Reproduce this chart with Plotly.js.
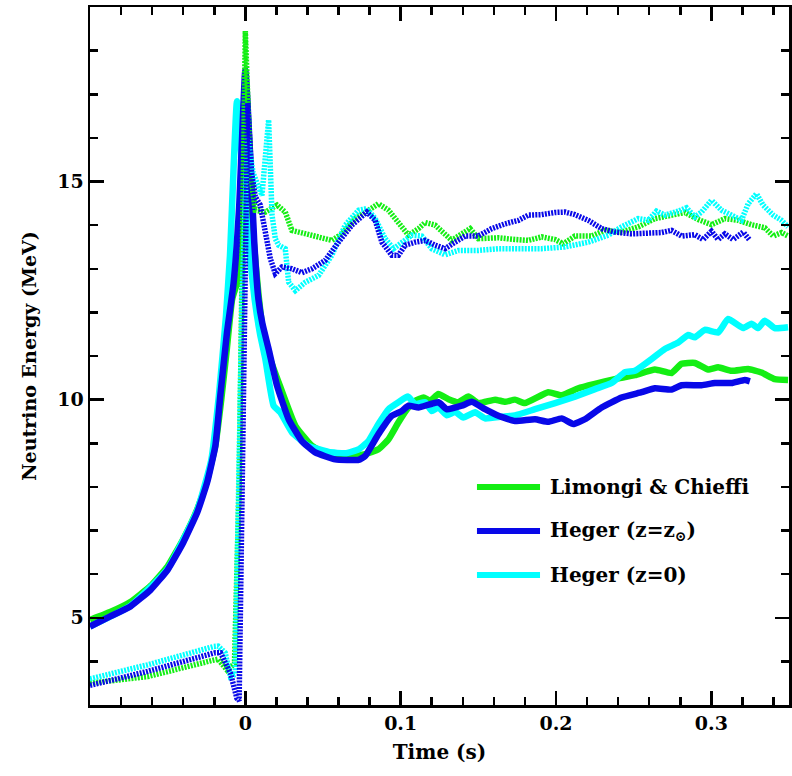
<!DOCTYPE html>
<html>
<head>
<meta charset="utf-8">
<script src="https://cdn.plot.ly/plotly-3.0.1.min.js"></script>
<style>html,body{margin:0;padding:0;background:#fff;}#chart{width:792px;height:776px;}</style>
</head>
<body>
<div id="chart"></div>
<script>
// ---- data: [time (s), energy (MeV)] ----
const seriesNames = ['Limongi & Chieffi', 'Heger (z=z<sub>\u2299</sub>)', 'Heger (z=0)'];
const seriesColors = ['#14ee14', '#0808e8', '#00ffff'];

const lcSolid = [[-0.1,4.95],[-0.087,5.13],[-0.074,5.36],[-0.061,5.73],[-0.05,6.18],[-0.04,6.8],[-0.031,7.48],[-0.0246,8.15],[-0.0193,8.95],[-0.0155,10.0],[-0.0118,11.2],[-0.0085,12.3],[-0.005,12.7],[-0.003,12.9],[-0.001,15.0],[0.0005,17.3],[0.0025,15.6],[0.005,13.8],[0.0085,12.4],[0.0125,11.3],[0.0214,10.4],[0.0322,9.4],[0.0429,8.94],[0.0557,8.71],[0.0686,8.71],[0.0772,8.75],[0.0857,8.86],[0.0922,9.09],[0.0986,9.48],[0.105,9.82],[0.1093,9.97],[0.1147,10.05],[0.119,9.97],[0.1243,10.13],[0.1308,10.01],[0.1372,9.94],[0.1436,10.07],[0.15,9.92],[0.1608,10.0],[0.1672,9.95],[0.1736,10.0],[0.18,9.92],[0.195,10.17],[0.2036,10.1],[0.2144,10.26],[0.2251,10.36],[0.2379,10.47],[0.2508,10.56],[0.2637,10.69],[0.2744,10.61],[0.2808,10.82],[0.2894,10.84],[0.2979,10.69],[0.3044,10.74],[0.313,10.66],[0.3237,10.7],[0.3323,10.62],[0.3408,10.47],[0.3494,10.45]];

const hsSolid = [[-0.1,4.8],[-0.087,5.03],[-0.074,5.26],[-0.061,5.64],[-0.05,6.1],[-0.04,6.72],[-0.031,7.41],[-0.0246,8.1],[-0.0193,8.94],[-0.0161,10.09],[-0.0118,11.54],[-0.0075,12.69],[-0.004,14.4],[0.0,17.55],[0.0032,15.53],[0.0058,13.57],[0.0084,12.31],[0.011,11.74],[0.015,11.16],[0.0204,10.32],[0.0279,9.55],[0.0364,9.05],[0.045,8.79],[0.0579,8.63],[0.0729,8.62],[0.0772,8.71],[0.0857,9.21],[0.0943,9.63],[0.1008,9.74],[0.105,9.86],[0.1115,9.82],[0.1243,9.94],[0.1297,9.78],[0.1393,9.86],[0.1458,9.95],[0.1543,9.78],[0.1629,9.63],[0.1736,9.51],[0.1865,9.55],[0.195,9.49],[0.2036,9.57],[0.2111,9.44],[0.2186,9.55],[0.2294,9.82],[0.2422,10.05],[0.2551,10.17],[0.2637,10.26],[0.2744,10.23],[0.2808,10.33],[0.2937,10.33],[0.3023,10.38],[0.313,10.38],[0.3215,10.45],[0.3248,10.42]];

const h0Solid = [[-0.1,4.8],[-0.074,5.27],[-0.05,6.12],[-0.031,7.46],[-0.022,8.6],[-0.017,10.1],[-0.0125,11.9],[-0.0099,13.3],[-0.0054,16.84],[-0.002,15.3],[0.002,13.6],[0.006,12.3],[0.0095,11.5],[0.0129,10.93],[0.0182,9.86],[0.0225,9.71],[0.03,9.25],[0.0407,8.94],[0.0536,8.8],[0.0643,8.77],[0.0729,8.86],[0.0793,9.05],[0.0857,9.44],[0.0922,9.78],[0.0986,9.94],[0.1046,10.07],[0.1093,9.9],[0.1158,9.94],[0.12,9.74],[0.1243,9.82],[0.1297,9.64],[0.135,9.72],[0.1404,9.59],[0.1479,9.71],[0.1543,9.57],[0.1651,9.61],[0.1736,9.64],[0.1865,9.78],[0.1994,9.92],[0.2122,10.07],[0.2251,10.24],[0.2358,10.38],[0.2444,10.63],[0.2508,10.66],[0.2615,10.93],[0.2701,11.16],[0.2787,11.31],[0.2851,11.48],[0.2894,11.43],[0.2958,11.6],[0.3044,11.54],[0.3108,11.85],[0.3205,11.64],[0.3258,11.74],[0.3301,11.64],[0.3344,11.81],[0.3408,11.64],[0.3494,11.66]];

const lcDotted = [[-0.1,3.5],[-0.063,3.65],[-0.0204,4.03],[-0.0175,4.05],[-0.0118,3.8],[-0.007,3.95],[-0.004,8.0],[-0.002,13.0],[0.0,18.45],[0.002,16.5],[0.004,15.0],[0.0064,14.34],[0.0129,14.3],[0.0204,14.46],[0.0257,14.3],[0.03,13.88],[0.0386,13.8],[0.0472,13.71],[0.0557,13.65],[0.0622,13.8],[0.0707,14.15],[0.0793,14.34],[0.0857,14.49],[0.0922,14.34],[0.0986,14.07],[0.105,13.77],[0.1115,13.92],[0.1158,14.06],[0.1222,14.0],[0.1286,13.77],[0.1329,13.65],[0.1393,13.8],[0.1447,13.92],[0.15,13.69],[0.1629,13.71],[0.1736,13.67],[0.1822,13.65],[0.1908,13.73],[0.1994,13.67],[0.2047,13.57],[0.2122,13.75],[0.2229,13.75],[0.2315,13.88],[0.2422,13.84],[0.2529,13.96],[0.2637,14.15],[0.2744,14.23],[0.283,14.29],[0.2915,14.13],[0.3001,14.01],[0.3087,14.15],[0.3172,14.11],[0.3258,14.01],[0.3344,13.94],[0.3398,13.75],[0.3452,13.83],[0.3494,13.75]];

const hsDotted = [[-0.1,3.45],[-0.063,3.77],[-0.0193,4.2],[-0.016,4.2],[-0.0096,3.73],[-0.0054,3.15],[-0.004,3.1],[-0.002,8.0],[0.0,14.0],[0.0015,16.8],[0.004,15.2],[0.0064,14.65],[0.0096,14.46],[0.0129,13.77],[0.0161,13.23],[0.0193,12.89],[0.0236,13.04],[0.03,13.0],[0.0364,12.91],[0.0429,13.0],[0.0514,13.19],[0.06,13.61],[0.0686,14.0],[0.0782,14.3],[0.0836,14.11],[0.0879,13.61],[0.0943,13.31],[0.0986,13.31],[0.1029,13.54],[0.1093,13.61],[0.1158,13.65],[0.1222,13.54],[0.1286,13.46],[0.135,13.61],[0.1415,13.75],[0.15,13.75],[0.1586,13.92],[0.1672,14.03],[0.1758,14.11],[0.1822,14.23],[0.1908,14.24],[0.1994,14.29],[0.2058,14.3],[0.2122,14.24],[0.2208,14.11],[0.2294,13.92],[0.238,13.84],[0.2487,13.8],[0.2594,13.8],[0.268,13.83],[0.2744,13.88],[0.2808,13.75],[0.2894,13.78],[0.2947,13.67],[0.3001,13.86],[0.3044,13.67],[0.3087,13.8],[0.314,13.67],[0.3205,13.84],[0.3248,13.65]];

const h0Dotted = [[-0.1,3.6],[-0.063,3.92],[-0.0204,4.34],[-0.0175,4.35],[-0.013,4.2],[-0.0096,3.65],[-0.0065,3.7],[-0.004,8.0],[-0.002,12.5],[0.0015,16.0],[0.005,15.2],[0.0107,14.68],[0.015,16.41],[0.0172,14.23],[0.0193,13.69],[0.0214,13.54],[0.0257,13.46],[0.0279,12.69],[0.0322,12.5],[0.0386,12.69],[0.0472,12.85],[0.0557,13.31],[0.0643,14.0],[0.0729,14.34],[0.0782,14.38],[0.0836,14.15],[0.09,13.69],[0.0954,13.46],[0.1008,13.61],[0.1072,13.77],[0.1136,13.75],[0.12,13.46],[0.1286,13.32],[0.1372,13.42],[0.15,13.42],[0.1629,13.46],[0.1758,13.46],[0.1908,13.46],[0.2058,13.5],[0.2208,13.61],[0.2337,13.77],[0.2422,13.96],[0.2529,14.15],[0.2594,14.11],[0.2647,14.32],[0.2701,14.23],[0.2787,14.32],[0.284,14.4],[0.2894,14.19],[0.2937,14.3],[0.3001,14.57],[0.3066,14.34],[0.313,14.23],[0.3194,14.11],[0.3237,14.49],[0.3291,14.72],[0.3333,14.46],[0.3398,14.23],[0.3452,14.11],[0.3494,13.96]];

const xTickVals = [0, 0.1, 0.2, 0.3];
const xTickText = ['0', '0.1', '0.2', '0.3'];
const yTickVals = [5, 10, 15];
const yTickText = ['5', '10', '15'];

// ---- build ----
const FONT = 'DejaVu Serif';
const solids = [lcSolid, hsSolid, h0Solid];
const dotted = [lcDotted, hsDotted, h0Dotted];
const order = [0, 2, 1];
const traces = [];
order.forEach(i => {
  traces.push({x: solids[i].map(p => p[0]), y: solids[i].map(p => p[1]), type: 'scatter', mode: 'lines',
    line: {color: seriesColors[i], width: 6.5, shape: 'spline', smoothing: 0.4}, showlegend: false, hoverinfo: 'skip'});
});
order.forEach(i => {
  traces.push({x: dotted[i].map(p => p[0]), y: dotted[i].map(p => p[1]), type: 'scatter', mode: 'lines',
    line: {color: seriesColors[i], width: 5.5, dash: '2px,1.2px'}, showlegend: false, hoverinfo: 'skip'});
});

const legendY = [0.3123, 0.2493, 0.1862];
const shapes = [], annotations = [];
seriesNames.forEach((name, i) => {
  shapes.push({type: 'line', xref: 'paper', yref: 'paper', x0: 0.5536, x1: 0.6438, y0: legendY[i], y1: legendY[i],
    line: {color: seriesColors[i], width: 6}});
  annotations.push({xref: 'paper', yref: 'paper', x: 0.6552, y: legendY[i], xanchor: 'left', yanchor: 'middle',
    text: name, showarrow: false, font: {family: FONT, size: 20, color: '#000', weight: 'bold'}});
});

const axisCommon = {
  showline: true, linecolor: '#000', linewidth: 2.5, mirror: 'allticks',
  ticks: 'inside', ticklen: 14, tickwidth: 2.5, tickcolor: '#000',
  showgrid: false, zeroline: false,
  tickfont: {family: FONT, size: 19, color: '#000', weight: 'bold'}
};

const layout = {
  width: 792, height: 776,
  margin: {l: 90, r: 3, t: 7, b: 71},
  paper_bgcolor: '#fff', plot_bgcolor: '#fff',
  showlegend: false,
  xaxis: Object.assign({}, axisCommon, {
    range: [-0.1, 0.35], tickmode: 'array', tickvals: xTickVals, ticktext: xTickText,
    minor: {tickmode: 'linear', tick0: 0, dtick: 0.02, ticklen: 8, tickwidth: 2.5, tickcolor: '#000', ticks: 'inside', showgrid: false},
    title: {text: 'Time (s)', font: {family: FONT, size: 20, color: '#000', weight: 'bold'}, standoff: 12}
  }),
  yaxis: Object.assign({}, axisCommon, {
    range: [3, 19], tickmode: 'array', tickvals: yTickVals, ticktext: yTickText,
    minor: {tickmode: 'linear', tick0: 0, dtick: 1, ticklen: 8, tickwidth: 2.5, tickcolor: '#000', ticks: 'inside', showgrid: false},
    title: {text: 'Neutrino Energy (MeV)', font: {family: FONT, size: 19, color: '#000', weight: 'bold'}, standoff: 16}
  }),
  shapes: shapes,
  annotations: annotations
};

Plotly.newPlot('chart', traces, layout, {displayModeBar: false, staticPlot: true});
</script>
</body>
</html>
